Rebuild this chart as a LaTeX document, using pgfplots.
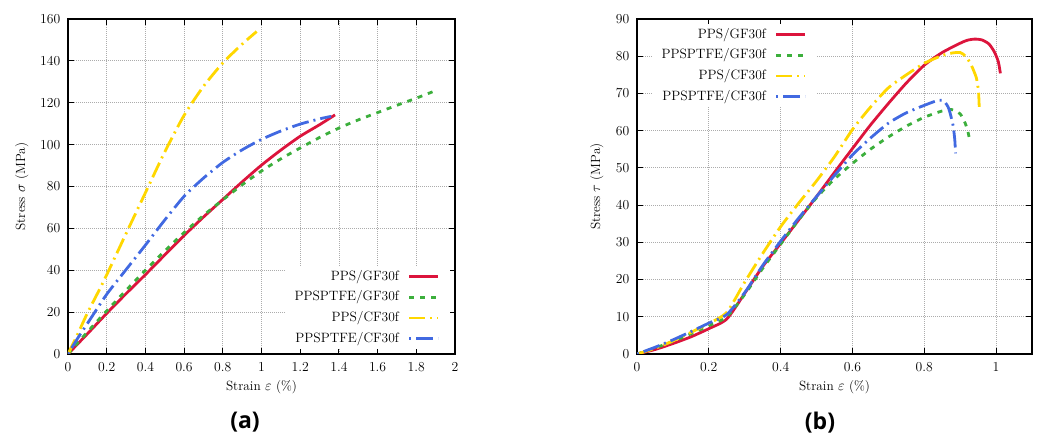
\documentclass[border=0pt]{standalone}
\usepackage{fontspec}
\usepackage{pgfplots}
\pgfplotsset{compat=1.18}
\newfontfamily\capfont{Open Sans}

\definecolor{cRed}{RGB}{220,20,60}
\definecolor{cGreen}{RGB}{60,175,60}
\definecolor{cGold}{RGB}{255,215,0}
\definecolor{cBlue}{RGB}{65,105,225}

\pgfplotsset{
  stressplot/.style={
    scale only axis,
    /pgf/number format/assume math mode=true,
    tick label style={font=\fontsize{13.7}{16}\selectfont},
    label style={font=\fontsize{13.3}{16}\selectfont},
    axis line style={line width=1.2pt},
    tick align=inside,
    major tick length=6pt,
    every tick/.style={black, line width=1pt},
    grid=major,
    major grid style={gray!65, line width=0.8pt, dash pattern=on 0.8pt off 1.2pt},
    xticklabel style={yshift=-4.5pt},
    yticklabel style={xshift=-4.2pt},
    xlabel style={at={(axis description cs:0.5,0)}, anchor=center, yshift=-33pt},
    legend cell align=right,
    legend plot pos=right,
    legend image code/.code={\draw[##1] (0pt,0pt) -- (29pt,0pt);},
    legend style={draw=none, fill=white, inner xsep=10pt, inner ysep=4pt,
      row sep=7.4pt, column sep=9pt,
      nodes={inner sep=0pt, text height=10.3pt, text depth=3pt},
      font=\fontsize{13.5}{16}\selectfont},
    every axis plot/.append style={line width=2.8pt, smooth, tension=0.4},
  },
  sGF/.style={color=cRed, solid},
  sPGF/.style={color=cGreen, dash pattern=on 5pt off 6pt},
  sCF/.style={color=cGold, dash pattern=on 16pt off 5pt on 2pt off 5pt},
  sPCF/.style={color=cBlue, dash pattern=on 2pt off 5pt on 17pt off 5pt},
}

\begin{document}
\begin{tikzpicture}
\useasboundingbox (0pt,0pt) rectangle (1037pt,435pt);

% (a) tensile
\begin{axis}[stressplot, at={(68pt,81pt)}, anchor=south west,
  width=387pt, height=335pt,
  xmin=0, xmax=2, ymin=0, ymax=160,
  xtick={0,0.2,0.4,0.6,0.8,1,1.2,1.4,1.6,1.8,2},
  ytick={0,20,40,60,80,100,120,140,160},
  xlabel={Strain $\varepsilon$ (\%)},
  ylabel={Stress $\sigma$ (MPa)},
  ylabel style={at={(axis description cs:-0.1196,0.5)}, anchor=center},
  legend style={at={(1,0)}, anchor=south east, xshift=-5pt, yshift=4.5pt}]
\addplot[sGF] coordinates {(0,0) (0.1,9.6) (0.2,19.4) (0.3,28.8) (0.4,37.9) (0.5,47.3) (0.6,56.6) (0.7,65.4) (0.8,73.8) (0.9,82.2) (1.0,90.2) (1.1,97.4) (1.2,104) (1.3,109.5) (1.38,114.2)};
\addlegendentry{PPS/GF30f}
\addplot[sPGF] coordinates {(0,0) (0.1,10.5) (0.2,20.6) (0.3,30.4) (0.4,40) (0.5,49.2) (0.6,58) (0.7,66.2) (0.8,73.6) (0.9,80.8) (1.0,87.4) (1.1,93.2) (1.2,98.4) (1.3,103.4) (1.4,107.9) (1.5,111.8) (1.6,115.3) (1.7,118.8) (1.8,122.2) (1.9,125.8)};
\addlegendentry{PPSPTFE/GF30f}
\addplot[sCF] coordinates {(0,0) (0.05,9.5) (0.1,19.5) (0.15,28.5) (0.2,37.8) (0.3,57.5) (0.4,77) (0.5,96.5) (0.6,114) (0.7,127.8) (0.8,139) (0.9,148) (0.975,154)};
\addlegendentry{PPS/CF30f}
\addplot[sPCF] coordinates {(0,0) (0.05,7.5) (0.1,14.5) (0.2,28.5) (0.3,40.3) (0.4,52) (0.5,64) (0.6,75.3) (0.7,84) (0.8,91.5) (0.9,97.5) (1.0,102.5) (1.1,106.5) (1.2,109.8) (1.3,112.3) (1.36,113.5)};
\addlegendentry{PPSPTFE/CF30f}
\end{axis}

% (b) shear
\begin{axis}[stressplot, at={(637pt,81pt)}, anchor=south west,
  width=395pt, height=335pt,
  xmin=0, xmax=1.1, ymin=0, ymax=90,
  xtick={0,0.2,0.4,0.6,0.8,1},
  ytick={0,10,20,30,40,50,60,70,80,90},
  xlabel={Strain $\varepsilon$ (\%)},
  ylabel={Stress $\tau$ (MPa)},
  ylabel style={at={(axis description cs:-0.102,0.5)}, anchor=center},
  legend style={at={(0,1)}, anchor=north east, xshift=180pt, yshift=-4.75pt}]
\addplot[sGF] coordinates {(0,0) (0.05,1.2) (0.1,2.8) (0.15,4.6) (0.2,6.8) (0.25,9.4) (0.3,16.3) (0.35,23.5) (0.4,29.7) (0.45,36) (0.5,42.3) (0.55,48.8) (0.6,55.2) (0.65,61.5) (0.7,67.3) (0.75,72.8) (0.8,77.6) (0.85,81) (0.9,83.5) (0.92,84.3) (0.94,84.6) (0.96,84.4) (0.98,83.3) (0.995,81.2) (1.006,78.6) (1.012,75.4)};
\addlegendentry{PPS/GF30f}
\addplot[sPGF] coordinates {(0,0) (0.05,1.6) (0.1,3.4) (0.15,5.4) (0.2,7.6) (0.25,10) (0.3,16) (0.35,23) (0.4,29.5) (0.45,36) (0.5,42) (0.55,47) (0.6,51.2) (0.65,55) (0.7,58.3) (0.75,61.2) (0.8,63.6) (0.85,65.3) (0.875,65.7) (0.9,64.5) (0.914,62) (0.922,59.5) (0.928,56.8)};
\addlegendentry{PPSPTFE/GF30f}
\addplot[sCF] coordinates {(0,0) (0.05,1.5) (0.1,3.5) (0.15,5.8) (0.2,8.2) (0.25,11.2) (0.3,19.3) (0.35,27) (0.4,34.2) (0.45,40.5) (0.5,46.5) (0.55,53) (0.6,60.3) (0.65,66.3) (0.7,71.5) (0.75,75) (0.8,78.1) (0.85,80.2) (0.88,80.9) (0.9,81) (0.915,80) (0.93,77.8) (0.945,74.2) (0.951,70.5) (0.953,66.4)};
\addlegendentry{PPS/CF30f}
\addplot[sPCF] coordinates {(0,0) (0.05,1.8) (0.1,3.8) (0.15,6) (0.2,8.3) (0.25,10.6) (0.3,16.5) (0.35,23.8) (0.4,30.3) (0.45,36.5) (0.5,42.3) (0.55,48) (0.6,53.5) (0.65,58) (0.7,62) (0.75,64.8) (0.8,66.8) (0.84,68.2) (0.855,67.9) (0.868,66) (0.88,61.5) (0.885,57.5) (0.887,53.9)};
\addlegendentry{PPSPTFE/CF30f}
\end{axis}

\node[font=\capfont\bfseries\fontsize{23}{26}\selectfont] at (245pt,12.5pt) {(a)};
\node[font=\capfont\bfseries\fontsize{23}{26}\selectfont] at (820pt,12.5pt) {(b)};
\end{tikzpicture}
\end{document}
